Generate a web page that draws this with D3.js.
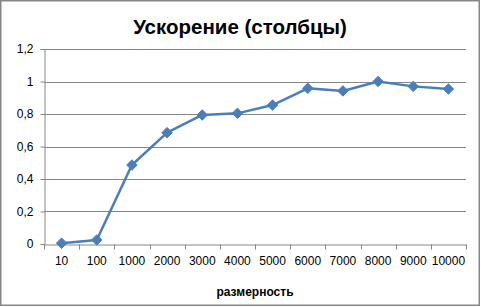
<!DOCTYPE html>
<html>
<head>
<meta charset="utf-8">
<script src="https://cdn.jsdelivr.net/npm/d3@7"></script>
<style>
  body { margin: 0; background: #fff; }
  svg { display: block; }
</style>
</head>
<body>
<svg id="chart" width="481" height="307"></svg>
<script>
'use strict';

// data
var categories = ['10', '100', '1000', '2000', '3000', '4000', '5000', '6000', '7000', '8000', '9000', '10000'];
var speedup = [0.005, 0.025, 0.486, 0.685, 0.794, 0.804, 0.855, 0.958, 0.942, 1.0, 0.970, 0.954];
var yTicks = [0, 0.2, 0.4, 0.6, 0.8, 1, 1.2];

var titleText = 'Ускорение (столбцы)';
var xTitle = 'размерность';

var svg = d3.select('#chart');
var font = '"Liberation Sans", Arial, sans-serif';
var grey = '#868686';
var blue = '#4a7ebb';

var plot = { left: 44, right: 466, top: 49, bottom: 244 };

var x = d3.scaleBand()
    .domain(categories)
    .range([plot.left, plot.right]);

var y = d3.scaleLinear()
    .domain([0, 1.2])
    .range([plot.bottom, plot.top]);

// outer frame
svg.append('rect')
    .attr('x', 0.75).attr('y', 0.75)
    .attr('width', 478.5).attr('height', 304.5)
    .attr('fill', '#fff')
    .attr('stroke', grey)
    .attr('stroke-width', 1.5);

// gridlines
svg.append('g')
    .selectAll('line')
    .data(yTicks.filter(function(d) { return d > 0; }))
    .enter().append('line')
    .attr('x1', plot.left).attr('x2', plot.right)
    .attr('y1', function(d) { return Math.round(y(d)) + 0.5; })
    .attr('y2', function(d) { return Math.round(y(d)) + 0.5; })
    .attr('stroke', grey)
    .attr('stroke-width', 1);

// y axis
var yAxis = d3.axisLeft(y)
    .tickValues(yTicks)
    .tickSize(4)
    .tickPadding(7)
    .tickFormat(function(d) { return String(d).replace('.', ','); });

var gy = svg.append('g')
    .attr('transform', 'translate(' + (plot.left + 0.5) + ',0)')
    .call(yAxis);

// x axis, ticks on band edges
var xAxis = d3.axisBottom(x)
    .tickSize(0)
    .tickPadding(12);

var gx = svg.append('g')
    .attr('transform', 'translate(0,' + (Math.round(plot.bottom) + 0.5) + ')')
    .call(xAxis);

var edges = categories.map(function(c) { return x(c); }).concat([plot.right]);
gx.selectAll('.edge')
    .data(edges)
    .enter().append('line')
    .attr('class', 'edge')
    .attr('x1', function(d) { return Math.round(d) + 0.5; })
    .attr('x2', function(d) { return Math.round(d) + 0.5; })
    .attr('y1', 0).attr('y2', 5)
    .attr('stroke', grey);

[gx, gy].forEach(function(g) {
    g.select('.domain').attr('stroke', grey);
    g.selectAll('.tick line').attr('stroke', grey);
    g.selectAll('text')
        .attr('fill', '#000')
        .style('font-family', font)
        .style('font-size', '12px');
});

// series line
var line = d3.line()
    .x(function(d, i) { return x(categories[i]) + x.bandwidth() / 2; })
    .y(function(d) { return y(d); });

svg.append('path')
    .datum(speedup)
    .attr('d', line)
    .attr('fill', 'none')
    .attr('stroke', blue)
    .attr('stroke-width', 2.5)
    .attr('stroke-linejoin', 'round');

svg.append('g')
    .selectAll('path')
    .data(speedup)
    .enter().append('path')
    .attr('d', d3.symbol().type(d3.symbolDiamond2).size(70))
    .attr('transform', function(d, i) {
        return 'translate(' + (x(categories[i]) + x.bandwidth() / 2) + ',' + y(d) + ')';
    })
    .attr('fill', blue)
    .attr('stroke', blue)
    .attr('stroke-width', 1);

// titles
svg.append('text')
    .attr('x', 240).attr('y', 34)
    .attr('text-anchor', 'middle')
    .style('font-family', font)
    .style('font-weight', 'bold')
    .style('font-size', '20.5px')
    .text(titleText);

svg.append('text')
    .attr('x', (plot.left + plot.right) / 2).attr('y', 296)
    .attr('text-anchor', 'middle')
    .style('font-family', font)
    .style('font-weight', 'bold')
    .style('font-size', '12px')
    .text(xTitle);
</script>
</body>
</html>
